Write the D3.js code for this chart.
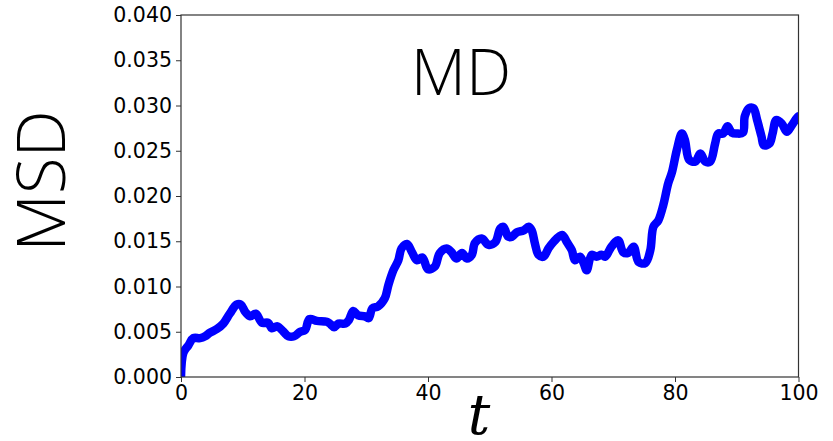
<!DOCTYPE html>
<html>
<head>
<meta charset="utf-8">
<script src="https://cdn.jsdelivr.net/npm/d3@7"></script>
<style>
  body { margin: 0; background: #fff; }
  #chart svg { display: block; }
</style>
</head>
<body>
<div id="chart"></div>
<script>
"use strict";

// == DATA ==
var tValues = [0, 0.4, 1.2, 2.0, 3.1, 3.9, 4.7, 5.8, 6.85, 7.9, 9.0, 9.7, 10.4, 11.2, 12.1, 13.1, 14.1, 14.7, 15.6, 16.6,
  17.4, 18.3, 19.3, 20.1, 20.8, 22.0, 23.6, 24.1, 24.8, 25.5, 26.6, 27.2, 27.9, 28.7, 29.8, 30.4, 31.0, 31.9, 33.0, 33.6,
  34.4, 35.2, 35.7, 36.6, 37.4, 38.2, 39.1, 40.0, 41.1, 41.9, 43.0, 43.8, 44.6, 45.5, 46.3, 47.1, 47.6, 48.7, 49.8, 50.9,
  51.7, 52.2, 53.0, 53.6, 54.4, 55.5, 56.3, 56.8, 57.3, 57.9, 58.7, 59.5, 60.3, 61.7, 62.5, 63.3, 63.8, 64.6, 65.2, 65.7,
  66.5, 67.3, 68.1, 68.7, 69.7, 70.8, 71.6, 72.4, 73.3, 74.1, 75.2, 76.0, 76.5, 77.3, 78.1, 78.9, 79.5, 80.3, 81.1, 81.6,
  82.3, 83.3, 84.1, 84.9, 85.7, 86.5, 87.0, 87.8, 88.5, 89.2, 90.0, 91.0, 91.3, 92.0, 92.7, 93.3, 94.0, 94.4, 95.3, 95.8,
  96.4, 97.3, 98.1, 98.9, 99.7, 100];
var msdValues = [0, 0.0027, 0.0035, 0.0043, 0.0043, 0.0045, 0.0049, 0.0053, 0.0059, 0.0070, 0.0080, 0.0080, 0.0072, 0.0067, 0.0070, 0.0060, 0.0060, 0.0054, 0.0056, 0.0050,
  0.0045, 0.0045, 0.0050, 0.0052, 0.0064, 0.0062, 0.0061, 0.0059, 0.0055, 0.0059, 0.0059, 0.0063, 0.0073, 0.0068, 0.0067, 0.0065, 0.0076, 0.0078, 0.0087, 0.0102,
  0.0118, 0.0129, 0.0142, 0.0147, 0.0138, 0.0129, 0.0132, 0.0119, 0.0122, 0.0137, 0.0142, 0.0138, 0.0131, 0.0137, 0.0131, 0.0135, 0.0148, 0.0153, 0.0146, 0.0149,
  0.0164, 0.0166, 0.0155, 0.0155, 0.0160, 0.0162, 0.0166, 0.0162, 0.0148, 0.0135, 0.0133, 0.0142, 0.0149, 0.0157, 0.0149, 0.0140, 0.0129, 0.0133, 0.0126, 0.0118,
  0.0135, 0.0133, 0.0135, 0.0133, 0.0144, 0.0151, 0.0138, 0.0137, 0.0144, 0.0127, 0.0126, 0.0140, 0.0166, 0.0173, 0.0190, 0.0214, 0.0226, 0.0251, 0.0269, 0.0262,
  0.0240, 0.0238, 0.0247, 0.0238, 0.0238, 0.0258, 0.0269, 0.0269, 0.0277, 0.0270, 0.0269, 0.0270, 0.0288, 0.0297, 0.0297, 0.0284, 0.0266, 0.0256, 0.0258, 0.0269,
  0.0284, 0.0280, 0.0271, 0.0278, 0.0286, 0.0288];
var xTicks = [0, 20, 40, 60, 80, 100];
var yTicks = [0, 0.005, 0.010, 0.015, 0.020, 0.025, 0.030, 0.035, 0.040];
var titleText = "MD";
var xLabel = "t";
var yLabel = "MSD";

// == BOILERPLATE ==
var W = 833, H = 441;
var margin = { top: 15, right: 34.5, bottom: 64, left: 181 },
    width = W - margin.left - margin.right,
    height = H - margin.top - margin.bottom;

var root = d3.select("#chart")
  .append("svg")
  .attr("width", W)
  .attr("height", H);

var svg = root.append("g")
  .attr("transform", "translate(" + margin.left + "," + margin.top + ")");

var x = d3.scaleLinear().domain([0, 100]).range([0, width]);
var y = d3.scaleLinear().domain([0, 0.04]).range([height, 0]);

var data = tValues.map(function (t, i) { return { t: t, v: msdValues[i] }; });

// the curve, clipped to the axes box
root.append("defs").append("clipPath").attr("id", "box")
  .append("rect").attr("x", 0).attr("y", -10).attr("width", width).attr("height", height + 10);

var line = d3.line()
  .x(function (d) { return x(d.t); })
  .y(function (d) { return y(d.v); })
  .curve(d3.curveCatmullRom.alpha(0.5));

svg.append("path")
  .datum(data)
  .attr("clip-path", "url(#box)")
  .attr("d", line)
  .attr("fill", "none")
  .attr("stroke", "#0000ff")
  .attr("stroke-width", 8.5)
  .attr("stroke-linejoin", "round")
  .attr("stroke-linecap", "round");

// axes
var xAxis = d3.axisBottom(x).tickValues(xTicks).tickSize(5).tickPadding(3)
  .tickFormat(d3.format("d"));
var yAxis = d3.axisLeft(y).tickValues(yTicks).tickSize(5).tickPadding(4)
  .tickFormat(d3.format(".3f"));

var gx = svg.append("g")
  .attr("transform", "translate(0," + height + ")")
  .call(xAxis);
var gy = svg.append("g").call(yAxis);

[gx, gy].forEach(function (g) {
  g.select(".domain").remove();
  g.selectAll(".tick line").attr("stroke", "#333");
  g.selectAll("text")
    .attr("font-family", "DejaVu Sans")
    .attr("font-size", "20.5px")
    .attr("fill", "#000");
});

// frame
svg.append("rect")
  .attr("x", 0).attr("y", 0)
  .attr("width", width).attr("height", height)
  .attr("fill", "none")
  .attr("stroke", "#333")
  .attr("stroke-width", 1.2);

// title + labels
svg.append("text")
  .attr("x", 461 - margin.left)
  .attr("y", 95 - margin.top)
  .attr("text-anchor", "middle")
  .attr("font-family", "Open Sans")
  .attr("font-weight", 300)
  .attr("font-size", "64px")
  .text(titleText);

root.append("text")
  .attr("transform", "translate(65,181) rotate(-90)")
  .attr("text-anchor", "middle")
  .attr("font-family", "Open Sans")
  .attr("font-weight", 300)
  .attr("font-size", "67px")
  .text(yLabel);

root.append("text")
  .attr("x", 479)
  .attr("y", 434)
  .attr("text-anchor", "middle")
  .attr("font-family", "DejaVu Serif")
  .attr("font-style", "italic")
  .attr("font-size", "56px")
  .text(xLabel);
</script>
</body>
</html>
